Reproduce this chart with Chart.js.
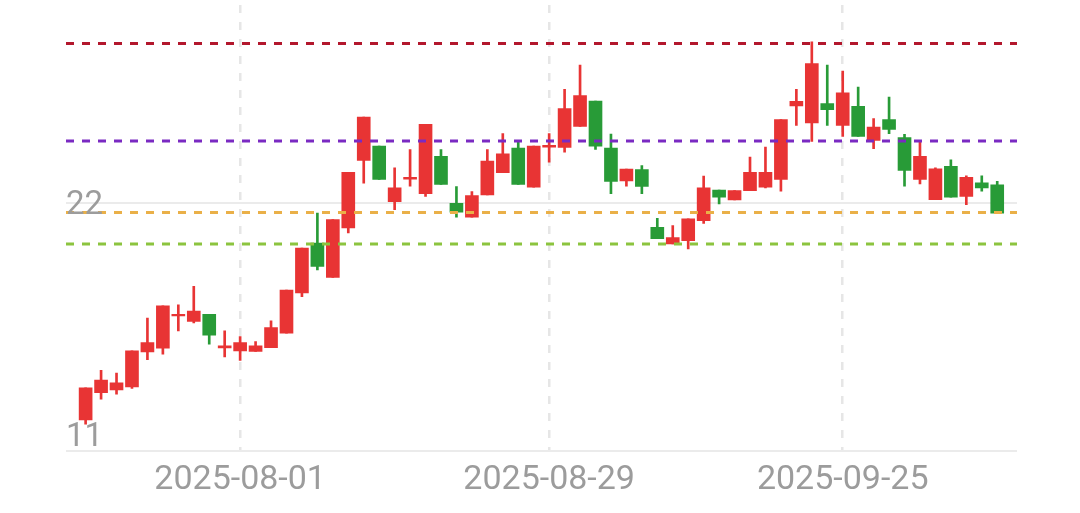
<!DOCTYPE html>
<html>
<head>
<meta charset="utf-8">
<script src="https://cdn.jsdelivr.net/npm/chart.js@4/dist/chart.umd.min.js"></script>
<style>
  html, body { margin: 0; padding: 0; background: #ffffff; }
  #wrap { width: 1080px; height: 513px; }
</style>
</head>
<body>
<div id="wrap"><canvas id="c" width="1080" height="513"></canvas></div>
<script>
// ---- categories (trading days) ----
const dates = [
  '2025-07-18','2025-07-21','2025-07-22','2025-07-23','2025-07-24','2025-07-25',
  '2025-07-28','2025-07-29','2025-07-30','2025-07-31','2025-08-01',
  '2025-08-04','2025-08-05','2025-08-06','2025-08-07','2025-08-08',
  '2025-08-11','2025-08-12','2025-08-13','2025-08-14','2025-08-15',
  '2025-08-18','2025-08-19','2025-08-20','2025-08-21','2025-08-22',
  '2025-08-25','2025-08-26','2025-08-27','2025-08-28','2025-08-29',
  '2025-09-01','2025-09-02','2025-09-03','2025-09-04','2025-09-05',
  '2025-09-08','2025-09-09','2025-09-10','2025-09-11','2025-09-12',
  '2025-09-15','2025-09-16','2025-09-17','2025-09-18','2025-09-19',
  '2025-09-22','2025-09-23','2025-09-24','2025-09-25','2025-09-26',
  '2025-09-29','2025-09-30','2025-10-09','2025-10-10',
  '2025-10-13','2025-10-14','2025-10-15','2025-10-16','2025-10-17'
];

// ---- OHLC series ----
const opens = [
  12.38,13.59,13.71,13.84,15.39,15.56,16.98,16.74,17.06,15.57,
  15.44,15.41,15.58,16.22,18.00,20.21,18.69,20.88,23.86,24.50,
  22.04,23.03,22.39,24.05,21.97,21.35,22.34,23.32,24.41,22.68,
  24.45,24.44,25.37,26.49,24.41,22.96,23.46,20.90,20.17,20.31,
  21.20,22.55,22.12,22.53,22.68,23.02,26.27,25.52,26.38,25.41,
  26.26,24.75,25.67,24.87,23.02,22.13,23.60,22.27,22.87,22.78
];
const closes = [
  13.80,14.15,14.02,15.44,15.81,17.43,17.06,17.20,16.13,15.66,
  15.81,15.66,16.47,18.13,19.99,19.18,21.25,23.34,25.78,23.02,
  22.65,23.12,25.46,22.80,21.57,22.31,23.83,24.16,22.80,24.50,
  24.53,26.16,26.73,24.50,22.93,23.48,22.71,20.40,20.45,21.28,
  22.65,22.24,22.53,23.34,23.34,25.67,26.48,28.15,26.11,26.85,
  24.93,25.34,25.24,23.42,24.05,23.49,22.24,23.12,22.65,21.53
];
const highs = [
  13.80,14.58,14.46,15.44,16.89,17.43,17.48,18.29,17.06,16.32,
  16.07,15.85,16.77,18.13,19.99,21.54,21.25,23.34,25.78,24.50,
  23.54,24.34,25.46,24.34,22.71,22.49,24.34,25.05,24.67,24.50,
  25.05,27.01,28.08,26.49,25.03,23.48,23.64,21.30,20.98,21.28,
  23.17,22.55,22.53,24.01,24.45,25.67,27.01,29.11,28.08,27.82,
  27.11,25.71,26.67,25.02,24.67,23.54,23.89,23.18,23.18,22.94
];
const lows = [
  12.20,13.30,13.52,13.78,15.05,15.29,16.32,16.68,15.73,15.17,
  15.02,15.41,15.58,16.22,17.84,19.02,18.69,20.66,22.86,23.02,
  21.69,22.72,22.27,22.80,21.35,21.35,22.34,23.32,22.80,22.68,
  23.79,24.23,25.37,24.35,22.39,22.72,22.39,20.40,20.17,19.95,
  21.08,21.94,22.12,22.53,22.65,22.50,25.41,24.71,25.41,24.93,
  24.93,24.38,25.05,22.72,22.83,22.13,22.24,21.91,22.50,21.53
];

// ---- reference levels (dashed lines) ----
const refLevels = [29.04, 24.72, 21.56, 20.17];
const refColors = ['#b3172d', '#7a2ac2', '#eab048', '#8cc43f'];

// ---- axis ticks ----
const xTickLabels = ['2025-08-01', '2025-08-29', '2025-09-25'];
const yTickValues = [11, 22];

const Y_MIN = 11, Y_MAX = 30.74;
const X_MIN = -1.27, X_MAX = 60.28;

const UP = '#e83434', DOWN = '#289b37';
const candleColors = opens.map((o, i) => closes[i] >= o ? UP : DOWN);

const bodyData = dates.map((d, i) => ({ x: i, y: [opens[i], closes[i]] }));
const wickData = dates.map((d, i) => ({ x: i, y: [lows[i], highs[i]] }));

const refDatasets = refLevels.map((lv, k) => ({
  type: 'line',
  data: [{ x: X_MIN, y: lv }, { x: X_MAX, y: lv }],
  borderColor: refColors[k],
  borderWidth: 3,
  borderDash: [8, 8],
  pointRadius: 0,
  fill: false,
  order: 0
}));

const yLabelPlugin = {
  id: 'yLabels',
  afterDraw(chart) {
    const ys = chart.scales.y;
    const ctx = chart.ctx;
    ctx.save();
    ctx.font = '33px Roboto';
    ctx.fillStyle = '#9c9c9c';
    ctx.textAlign = 'left';
    ctx.textBaseline = 'alphabetic';
    yTickValues.forEach(v => {
      const py = ys.getPixelForValue(v);
      const by = Math.min(py + 11.5, chart.chartArea.bottom - 5);
      ctx.fillText(String(v), chart.chartArea.left, by);
    });
    ctx.restore();
  }
};

new Chart(document.getElementById('c'), {
  type: 'bar',
  data: {
    datasets: [
      ...refDatasets,
      {
        data: bodyData,
        backgroundColor: candleColors,
        borderWidth: 0,
        barThickness: 13,
        grouped: false,
        order: 1
      },
      {
        data: wickData,
        backgroundColor: candleColors,
        borderWidth: 0,
        barThickness: 2,
        grouped: false,
        order: 2
      }
    ]
  },
  options: {
    responsive: false,
    animation: false,
    devicePixelRatio: 1,
    layout: { padding: { left: 66, right: 63, top: 5, bottom: 3 } },
    plugins: { legend: { display: false }, tooltip: { enabled: false } },
    scales: {
      x: {
        type: 'linear',
        min: X_MIN,
        max: X_MAX,
        offset: false,
        afterBuildTicks(scale) {
          scale.ticks = xTickLabels.map(l => ({ value: dates.indexOf(l) }));
        },
        ticks: {
          autoSkip: false,
          maxRotation: 0,
          padding: 9,
          color: '#9c9c9c',
          font: { family: 'Roboto', size: 34 },
          callback: (v) => dates[v]
        },
        grid: { color: '#e6e6e6', lineWidth: 2.5, drawTicks: false, offset: false },
        border: { display: false, dash: [8, 9] }
      },
      y: {
        min: Y_MIN,
        max: Y_MAX,
        z: 1,
        afterBuildTicks(scale) {
          scale.ticks = yTickValues.map(v => ({ value: v }));
        },
        ticks: { display: false },
        grid: { color: '#ebebeb', lineWidth: 2, drawTicks: false },
        border: { display: false }
      }
    }
  },
  plugins: [yLabelPlugin]
});
</script>
</body>
</html>
